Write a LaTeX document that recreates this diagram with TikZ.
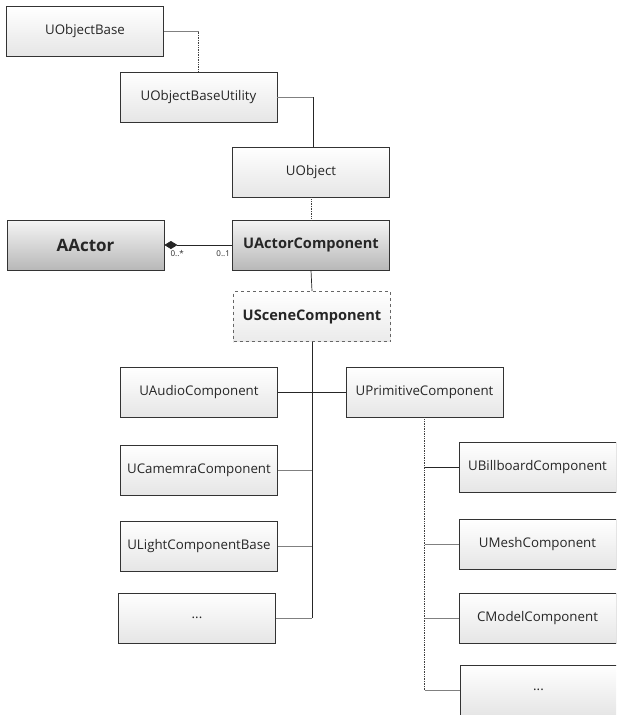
\documentclass[tikz,border=0pt]{standalone}
\usepackage{fontspec}
\setmainfont{Open Sans}
\usetikzlibrary{arrows.meta}
\tikzset{
  box/.style={draw=black!80, line width=0.8pt, minimum width=157pt, minimum height=50pt,
    inner sep=0pt, top color=white, bottom color=black!10, text=black!85,
    font=\fontsize{13.3}{16}\selectfont},
  darkbox/.style={box, top color=black!4, bottom color=black!28, font=\fontsize{14.6}{17}\selectfont\bfseries},
  dashbox/.style={box, dashed, draw=black!60, bottom color=black!8, font=\fontsize{14.6}{17}\selectfont\bfseries},
  conn/.style={draw=black!85, line width=0.7pt},
  lconn/.style={draw=black!50, line width=0.7pt},
  dconn/.style={draw=black!75, line width=0.7pt, densely dotted},
  mult/.style={font=\fontsize{8}{9}\selectfont, text=black!85, inner sep=1pt}
}
\begin{document}
\begin{tikzpicture}[x=1pt, y=-1pt]
\useasboundingbox[fill=white] (0,0) rectangle (616,715);
\clip (0,0) rectangle (616,715);
% nodes
\node[box] (ob)  at (85,31.5)  {UObjectBase};
\node[box] (obu) at (198.5,97) {UObjectBaseUtility};
\node[box] (uo)  at (311,172)  {UObject};
\node[darkbox] (uac) at (311,245) {UActorComponent};
\node[darkbox, font=\fontsize{17}{19}\selectfont\bfseries] (aa) at (85.5,245) {AActor};
\node[dashbox] (usc) at (312,316.5) {USceneComponent};
\node[box] (uau) at (199,392.5) {UAudioComponent};
\node[box] (upc) at (424.5,392) {UPrimitiveComponent};
\node[box] (ucm) at (199,470)   {UCamemraComponent};
\node[box] (ulc) at (199,546)   {ULightComponentBase};
\node[box] (ld)  at (197,618)   {...};
\node[box] (ubb) at (537.5,467) {UBillboardComponent};
\node[box] (umc) at (537.5,544.5) {UMeshComponent};
\node[box] (cmc) at (537.5,618) {CModelComponent};
\node[box] (rd)  at (538.5,690) {...};
% connectors
\draw[lconn] (ob.east) -- (ob.east -| obu.north);
\draw[dconn] (ob.east -| obu.north) -- (obu.north);
\draw[lconn] (obu.east) -- (obu.east -| 313,0);
\draw[conn] (obu.east -| 313,0) -- (313,0 |- uo.north);
\draw[dconn] (uo.south) -- (uac.north);
\draw[conn, {Diamond[length=13pt,width=8pt]}-] (aa.east) -- (uac.west);
\node[mult, anchor=north west] (m1) at ([xshift=5pt,yshift=-4pt]aa.east) {0..*};
\node[mult, anchor=north east] (m2) at ([xshift=-1pt,yshift=-4pt]uac.west) {0..1};
\draw[conn] (uac.south) -- (usc.north);
\draw[conn] (usc.south) -- (usc.south |- ld.east);
\draw[lconn] (usc.south |- ld.east) -- (ld.east);
\draw[conn] (uau.east) -- (uau.east -| upc.west);
\draw[lconn] (ucm.east) -- (ucm.east -| usc.south);
\draw[lconn] (ulc.east) -- (ulc.east -| usc.south);
\draw[dconn] (upc.south) -- (upc.south |- rd.west);
\draw[lconn] (upc.south |- rd.west) -- (rd.west);
\draw[conn] (upc.south |- ubb.west) -- (ubb.west);
\draw[lconn] (umc.west) -- (umc.west -| upc.south);
\draw[lconn] (cmc.west) -- (cmc.west -| upc.south);
\end{tikzpicture}
\end{document}
